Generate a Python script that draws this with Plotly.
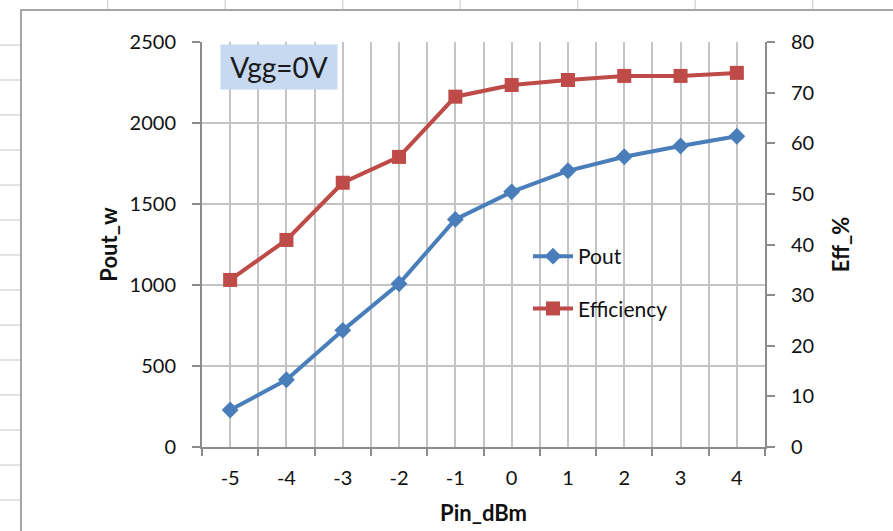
import plotly.graph_objects as go

# ---- data ----
pin_dbm = [-5, -4, -3, -2, -1, 0, 1, 2, 3, 4]
pout_w = [228, 415, 720, 1008, 1405, 1575, 1705, 1792, 1858, 1918]
eff_pct = [33.0, 40.9, 52.2, 57.3, 69.2, 71.5, 72.5, 73.3, 73.3, 73.9]

W, H = 893, 531
PL, PR, PT, PB = 202, 765, 42, 447   # plot area in pixels
FONT = "Lato"
BLUE = "#4a7ebb"
RED = "#be4b48"
AXIS = "#8c8c8c"
GRID = "#c4c4c4"
TXT = "#111111"


def px_x(px):
    return (px - PL) / (PR - PL)


def px_y(py):
    return (PB - py) / (PB - PT)


fig = go.Figure()
fig.add_trace(go.Scatter(
    x=pin_dbm, y=pout_w, name="Pout", mode="lines+markers",
    line=dict(color=BLUE, width=4),
    marker=dict(symbol="diamond", size=13, color=BLUE),
    legendgroup="a",
))
fig.add_trace(go.Scatter(
    x=pin_dbm, y=eff_pct, name="Efficiency", mode="lines+markers",
    line=dict(color=RED, width=4),
    marker=dict(symbol="square", size=14, color=RED),
    yaxis="y2", legendgroup="b",
))

shapes = []
# spreadsheet background grid (outside the chart area)
for k in range(1, 16):
    yy = 10 + 35 * k
    shapes.append(dict(type="line", xref="paper", yref="paper",
                       x0=px_x(0), x1=px_x(21), y0=px_y(yy), y1=px_y(yy),
                       line=dict(color="#d9d9d9", width=1.5), layer="below"))
for k in range(7):
    xx = 107.7 + 117.5 * k
    shapes.append(dict(type="line", xref="paper", yref="paper",
                       x0=px_x(xx), x1=px_x(xx), y0=px_y(0), y1=px_y(10),
                       line=dict(color="#d9d9d9", width=1.5), layer="below"))
# chart area border
shapes.append(dict(type="rect", xref="paper", yref="paper",
                   x0=px_x(21), x1=px_x(900), y0=px_y(10), y1=px_y(540),
                   line=dict(color="#a6a6a6", width=2), layer="below"))

fig.update_layout(
    width=W, height=H,
    margin=dict(l=PL, r=W - PR, t=PT, b=H - PB, autoexpand=False),
    paper_bgcolor="white", plot_bgcolor="white",
    font=dict(family=FONT, size=20, color=TXT),
    shapes=shapes,
    showlegend=True,
    legend=dict(x=px_x(528), y=px_y(236), xanchor="left", yanchor="top",
                bgcolor="rgba(0,0,0,0)", font=dict(size=21, color=TXT),
                traceorder="grouped", tracegroupgap=22, itemwidth=40),
    xaxis=dict(
        range=[-5.5, 4.5], tickmode="array", tickvals=pin_dbm,
        ticktext=[str(v) for v in pin_dbm],
        ticks="", showgrid=True, gridcolor=GRID, gridwidth=1.5,
        showline=True, linecolor=AXIS, linewidth=2, zeroline=False,
        ticklabelstandoff=12,
        minor=dict(tick0=-5.5, dtick=1, ticks="outside", ticklen=7,
                   tickcolor=AXIS, tickwidth=2, showgrid=True,
                   gridcolor=GRID, gridwidth=1.5),
        title=dict(text="<b>Pin_dBm</b>", font=dict(size=22), standoff=18),
        fixedrange=True,
    ),
    yaxis=dict(
        range=[0, 2500], dtick=500, ticks="outside", ticklen=8,
        tickcolor=AXIS, tickwidth=2, showgrid=True, gridcolor=GRID,
        gridwidth=1.5, showline=True, linecolor=AXIS, linewidth=2,
        zeroline=False, ticklabelstandoff=12,
        title=dict(text="<b>Pout_w</b>", font=dict(size=22), standoff=6),
    ),
    yaxis2=dict(
        range=[0, 80], dtick=10, overlaying="y", side="right",
        ticks="outside", ticklen=8, tickcolor=AXIS, tickwidth=2,
        showgrid=False, showline=True, linecolor=AXIS, linewidth=2,
        zeroline=False, ticklabelstandoff=12,
        title=dict(text="<b>Eff_%</b>", font=dict(size=22), standoff=20),
    ),
    annotations=[dict(
        text="Vgg=0V", xref="paper", yref="paper",
        x=px_x(279), y=px_y(67), xanchor="center", yanchor="middle",
        showarrow=False, bgcolor="#c6d9f0", width=116, height=44,
        borderpad=0, font=dict(size=28, color="#1a1a1a", family=FONT),
    )],
)

fig.write_html("out.html")
